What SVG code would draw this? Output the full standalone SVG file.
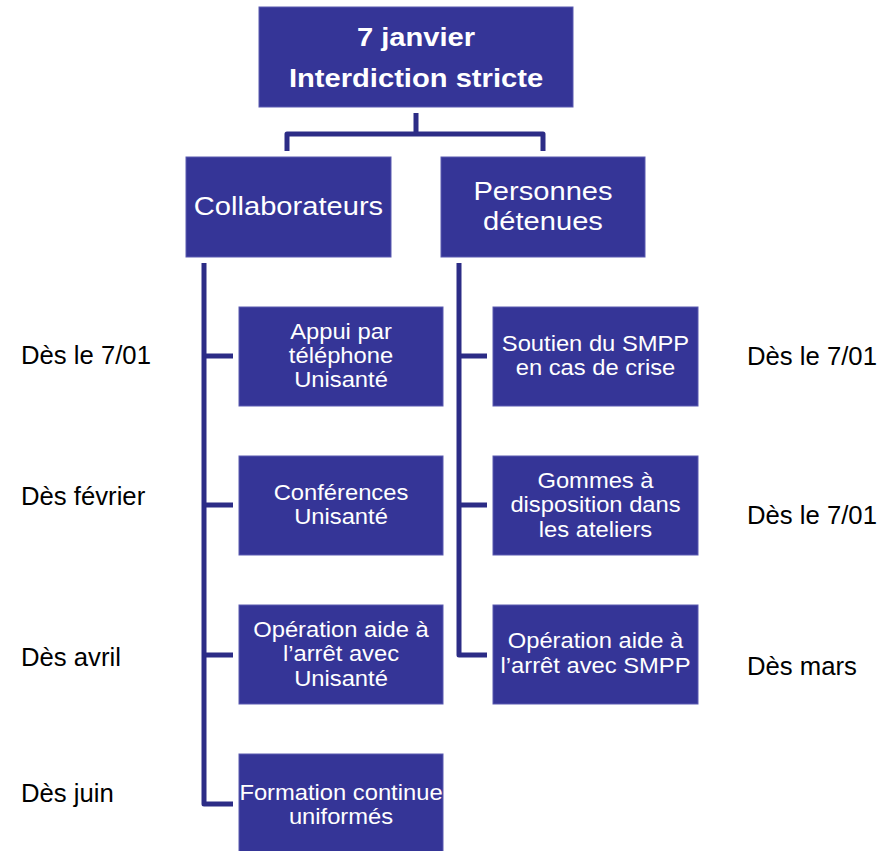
<svg xmlns="http://www.w3.org/2000/svg" width="893" height="851" viewBox="0 0 893 851">
<style>
.box{fill:#353597;stroke:#5a5ab0;stroke-width:1}
.con{fill:none;stroke:#2c2c86;stroke-width:5;stroke-linejoin:round}
.t{font-family:"Liberation Sans",Arial,sans-serif;fill:#fff;text-anchor:middle}
.top{font-size:26.5px;font-weight:bold}
.mid{font-size:26px}
.ch{font-size:22px}
.lab{font-family:"Liberation Sans",Arial,sans-serif;font-size:25.7px;fill:#000}
</style>
<rect width="893" height="851" fill="#fff"/>
<g id="connectors">
<path class="con" d="M416,113 V134 M287,151 V134 H543 V151"/>
<path class="con" d="M204,263 V804 H233 M204,356 H233 M204,505 H233 M204,655 H233"/>
<path class="con" d="M459,263 V655 H487 M459,356 H487 M459,505 H487"/>
</g>
<g id="root">
<rect class="box" x="259" y="7" width="314" height="100"/>
<g transform="translate(416 0) scale(1.1 1)"><text class="t top" x="0" y="46">7 janvier</text><text class="t top" x="0" y="87">Interdiction stricte</text></g>
</g>
<g id="collaborateurs">
<rect class="box" x="186" y="157" width="205" height="100"/>
<g transform="translate(288.5 0) scale(1.12 1)"><text class="t mid" x="0" y="215">Collaborateurs</text></g>
</g>
<g id="detenues">
<rect class="box" x="441" y="157" width="204" height="100"/>
<g transform="translate(543 0) scale(1.12 1)"><text class="t mid" x="0" y="200">Personnes</text><text class="t mid" x="0" y="230">détenues</text></g>
</g>
<g id="appui">
<rect class="box" x="239" y="307" width="204" height="99"/>
<g transform="translate(341 0) scale(1.08 1)"><text class="t ch" x="0" y="339">Appui par</text><text class="t ch" x="0" y="363">téléphone</text><text class="t ch" x="0" y="387">Unisanté</text></g>
</g>
<g id="conferences">
<rect class="box" x="239" y="456" width="204" height="99"/>
<g transform="translate(341 0) scale(1.08 1)"><text class="t ch" x="0" y="500">Conférences</text><text class="t ch" x="0" y="524">Unisanté</text></g>
</g>
<g id="operation-unisante">
<rect class="box" x="239" y="605" width="204" height="99"/>
<g transform="translate(341 0) scale(1.08 1)"><text class="t ch" x="0" y="637">Opération aide à</text><text class="t ch" x="0" y="661">l’arrêt avec</text><text class="t ch" x="0" y="686">Unisanté</text></g>
</g>
<g id="formation">
<rect class="box" x="239" y="754" width="204" height="99"/>
<g transform="translate(341 0) scale(1.08 1)"><text class="t ch" x="0" y="800">Formation continue</text><text class="t ch" x="0" y="824">uniformés</text></g>
</g>
<g id="soutien">
<rect class="box" x="493" y="307" width="205" height="99"/>
<g transform="translate(595.5 0) scale(1.08 1)"><text class="t ch" x="0" y="351">Soutien du SMPP</text><text class="t ch" x="0" y="375">en cas de crise</text></g>
</g>
<g id="gommes">
<rect class="box" x="493" y="456" width="205" height="99"/>
<g transform="translate(595.5 0) scale(1.08 1)"><text class="t ch" x="0" y="488">Gommes à</text><text class="t ch" x="0" y="512">disposition dans</text><text class="t ch" x="0" y="537">les ateliers</text></g>
</g>
<g id="operation-smpp">
<rect class="box" x="493" y="605" width="205" height="99"/>
<g transform="translate(595.5 0) scale(1.08 1)"><text class="t ch" x="0" y="648">Opération aide à</text><text class="t ch" x="0" y="673">l’arrêt avec SMPP</text></g>
</g>
<g id="labels">
<text class="lab" x="21" y="364">Dès le 7/01</text>
<text class="lab" x="21" y="505">Dès février</text>
<text class="lab" x="21" y="666">Dès avril</text>
<text class="lab" x="21" y="802">Dès juin</text>
<text class="lab" x="747" y="365">Dès le 7/01</text>
<text class="lab" x="747" y="524">Dès le 7/01</text>
<text class="lab" x="747" y="675">Dès mars</text>
</g>
</svg>
